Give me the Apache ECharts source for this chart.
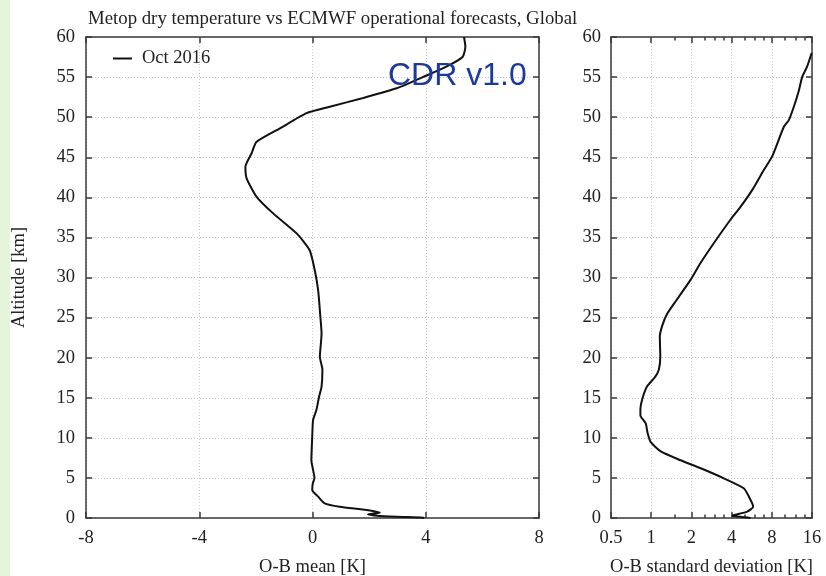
<!DOCTYPE html>
<html><head><meta charset="utf-8">
<script src="https://cdn.jsdelivr.net/npm/echarts@6/dist/echarts.min.js"></script>
<style>html,body{margin:0;padding:0;background:#fff}#c{width:826px;height:576px}</style>
</head><body><div id="c"></div>
<script>
// ---- data ----
const altitudeTicks = [0, 5, 10, 15, 20, 25, 30, 35, 40, 45, 50, 55, 60];
const meanTicks = [-8, -4, 0, 4, 8];
const sdMajorTicks = [0.5, 1, 2, 4, 8, 16];
const sdMinorTicks = [1.5, 2.5, 3, 3.5, 5, 6, 7, 10, 12, 14];

const meanAlt = [60.0, 58.8, 57.5, 56.3, 55.0, 53.6, 52.4, 51.3, 50.5, 48.6, 46.9, 45.5, 43.8, 42.4, 40.1, 38.0, 35.5, 33.4, 30.9, 28.4, 25.0, 23.0, 20.1, 18.5, 16.4, 15.1, 13.5, 12.2, 10.1, 7.2, 6.0, 5.0, 4.3, 3.5, 2.66, 1.83, 1.41, 1.0, 0.67, 0.46, 0.25, 0.04, 0.0];
const meanVal = [5.35, 5.40, 5.30, 4.73, 3.90, 2.97, 1.79, 0.61, -0.21, -1.15, -1.98, -2.15, -2.37, -2.33, -1.98, -1.39, -0.56, -0.10, 0.08, 0.20, 0.28, 0.32, 0.26, 0.35, 0.32, 0.23, 0.14, 0.02, -0.01, -0.04, 0.02, 0.07, 0.01, -0.01, 0.20, 0.43, 0.96, 1.91, 2.38, 1.96, 2.38, 3.90, 3.95];

const sdAlt = [58.0, 56.3, 55.0, 53.2, 51.3, 49.6, 48.8, 45.1, 43.4, 40.9, 38.8, 37.2, 34.3, 31.8, 29.7, 27.2, 25.5, 24.0, 22.6, 20.1, 18.5, 17.6, 16.4, 14.9, 13.5, 12.8, 11.8, 10.6, 9.5, 8.3, 7.2, 6.2, 4.95, 3.7, 2.25, 1.41, 0.79, 0.37, 0.25, 0.17, 0.0];
const sdVal = [15.9, 14.7, 13.5, 12.7, 11.7, 10.7, 9.85, 8.05, 6.97, 5.70, 4.66, 3.92, 2.95, 2.34, 1.97, 1.55, 1.32, 1.21, 1.16, 1.17, 1.14, 1.07, 0.93, 0.86, 0.83, 0.83, 0.91, 0.94, 0.99, 1.18, 1.66, 2.35, 3.5, 4.93, 5.55, 5.8, 5.23, 4.17, 4.04, 4.67, 5.55];

const seriesName = 'Oct 2016';
const titleText = 'Metop dry temperature vs ECMWF operational forecasts, Global';

// ---- styles ----
const SERIF = 'Liberation Serif';
const frame = { show: true, onZero: false, lineStyle: { color: '#3a3a3a', width: 1.5 } };
const noLine = { show: false, onZero: false };
const tickStyle = { color: '#3a3a3a', width: 1.5 };
const grid = { show: true, lineStyle: { color: '#c4c4c4', width: 1, type: [1, 2] } };
const lbl = { fontFamily: SERIF, fontSize: 18.5, color: '#222' };

const chart = echarts.init(document.getElementById('c'), null, { renderer: 'canvas' });
chart.setOption({
  animation: false,
  backgroundColor: '#ffffff',
  title: { text: titleText, left: 83, top: 5, textStyle: { fontFamily: SERIF, fontSize: 18.8, fontWeight: 'normal', color: '#222' } },
  legend: { data: [seriesName], left: 108, top: 44, icon: 'rect', itemWidth: 19, itemHeight: 2, itemGap: 10, textStyle: { fontFamily: SERIF, fontSize: 18.5, color: '#222', padding: [0, 0, 0, 5] } },
  graphic: [
    { type: 'rect', left: 0, top: 0, shape: { width: 10, height: 576 }, style: { fill: '#e7f4dc' }, silent: true, z: -10 },
    { type: 'text', x: 388, y: 76, style: { text: 'CDR v1.0', fontFamily: 'Liberation Sans', fontSize: 32, fill: '#1c3a9e', verticalAlign: 'middle' }, z: 100 }
  ],
  grid: [
    { left: 86, top: 37, width: 453, height: 481, containLabel: false, outerBoundsMode: 'none' },
    { left: 611, top: 37, width: 201, height: 481, containLabel: false, outerBoundsMode: 'none' }
  ],
  xAxis: [
    { gridIndex: 0, type: 'value', position: 'bottom', min: meanTicks[0], max: meanTicks[meanTicks.length - 1], interval: 4,
      axisLine: frame, axisTick: { inside: true, length: 6, lineStyle: tickStyle }, splitLine: grid,
      axisLabel: Object.assign({ margin: 11 }, lbl),
      name: 'O-B mean [K]', nameLocation: 'middle', nameGap: 40, nameTextStyle: lbl },
    { gridIndex: 0, type: 'value', position: 'top', min: -8, max: 8, interval: 4,
      axisLine: frame, axisTick: { inside: true, length: 6, lineStyle: tickStyle }, splitLine: { show: false }, axisLabel: { show: false } },
    { gridIndex: 1, type: 'log', logBase: 2, position: 'bottom', min: 0.5, max: 16,
      axisLine: frame, axisTick: { inside: true, length: 6, lineStyle: tickStyle, customValues: sdMajorTicks }, splitLine: grid,
      axisLabel: Object.assign({ margin: 11, customValues: sdMajorTicks }, lbl),
      name: 'O-B standard deviation [K]', nameLocation: 'middle', nameGap: 40, nameTextStyle: lbl },
    { gridIndex: 1, type: 'log', logBase: 2, position: 'top', min: 0.5, max: 16,
      axisLine: frame, axisTick: { inside: true, length: 6, lineStyle: tickStyle, customValues: sdMajorTicks }, splitLine: { show: false }, axisLabel: { show: false } },
    { gridIndex: 1, type: 'log', logBase: 2, position: 'bottom', min: 0.5, max: 16,
      axisLine: noLine, axisTick: { inside: true, length: 3.5, lineStyle: tickStyle, customValues: sdMinorTicks }, splitLine: { show: false }, axisLabel: { show: false } },
    { gridIndex: 1, type: 'log', logBase: 2, position: 'top', min: 0.5, max: 16,
      axisLine: noLine, axisTick: { inside: true, length: 3.5, lineStyle: tickStyle, customValues: sdMinorTicks }, splitLine: { show: false }, axisLabel: { show: false } }
  ],
  yAxis: [
    { gridIndex: 0, type: 'value', position: 'left', min: altitudeTicks[0], max: altitudeTicks[altitudeTicks.length - 1], interval: 5,
      axisLine: frame, axisTick: { inside: true, length: 6, lineStyle: tickStyle }, splitLine: grid,
      axisLabel: Object.assign({ margin: 11 }, lbl),
      name: 'Altitude [km]', nameLocation: 'middle', nameGap: 57, nameTextStyle: lbl },
    { gridIndex: 0, type: 'value', position: 'right', min: 0, max: 60, interval: 5,
      axisLine: frame, axisTick: { inside: true, length: 6, lineStyle: tickStyle }, splitLine: { show: false }, axisLabel: { show: false } },
    { gridIndex: 1, type: 'value', position: 'left', min: 0, max: 60, interval: 5,
      axisLine: frame, axisTick: { inside: true, length: 6, lineStyle: tickStyle }, splitLine: grid,
      axisLabel: Object.assign({ margin: 10 }, lbl) },
    { gridIndex: 1, type: 'value', position: 'right', min: 0, max: 60, interval: 5,
      axisLine: frame, axisTick: { inside: true, length: 6, lineStyle: tickStyle }, splitLine: { show: false }, axisLabel: { show: false } }
  ],
  series: [
    { name: seriesName, type: 'line', xAxisIndex: 0, yAxisIndex: 0, symbol: 'none', smooth: 0.2,
      lineStyle: { color: '#111', width: 2 }, itemStyle: { color: '#111' },
      data: meanVal.map((v, i) => [v, meanAlt[i]]) },
    { name: seriesName, type: 'line', xAxisIndex: 2, yAxisIndex: 2, symbol: 'none', smooth: 0.2,
      lineStyle: { color: '#111', width: 2 }, itemStyle: { color: '#111' },
      data: sdVal.map((v, i) => [v, sdAlt[i]]) }
  ]
});
</script></body></html>
